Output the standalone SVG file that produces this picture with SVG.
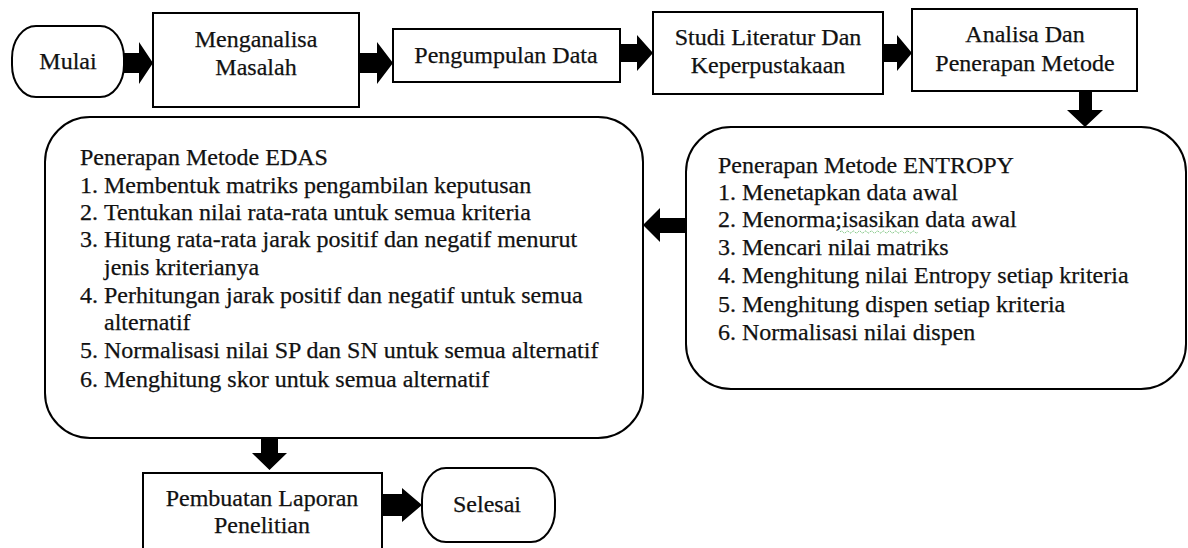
<svg xmlns="http://www.w3.org/2000/svg" width="1188" height="548" viewBox="0 0 1188 548">
<style>
.box{fill:#fff;stroke:#000;stroke-width:2}
.t{font-family:"Liberation Serif","Times New Roman",serif;font-size:24px;fill:#111;stroke:#111;stroke-width:0.25}
.c{text-anchor:middle}
.arr{fill:#000}
</style>
<rect width="1188" height="548" fill="#fff"/>
<g id="mulai">
<rect class="box" x="12" y="26" width="112" height="71" rx="24" ry="32"/>
<text class="t c" x="68" y="69">Mulai</text>
</g>
<g id="menganalisa">
<rect class="box" x="153" y="13" width="206" height="94"/>
<text class="t c" x="256" y="47">Menganalisa</text>
<text class="t c" x="256" y="75">Masalah</text>
</g>
<g id="pengumpulan">
<rect class="box" x="393" y="29" width="227" height="53"/>
<text class="t c" x="506" y="63">Pengumpulan Data</text>
</g>
<g id="studi">
<rect class="box" x="653" y="12" width="230" height="82"/>
<text class="t c" x="768" y="45">Studi Literatur Dan</text>
<text class="t c" x="768" y="73">Keperpustakaan</text>
</g>
<g id="analisa">
<rect class="box" x="912" y="9" width="225" height="82"/>
<text class="t c" x="1025" y="42">Analisa Dan</text>
<text class="t c" x="1025" y="71">Penerapan Metode</text>
</g>
<g id="entropy">
<rect class="box" x="686" y="127" width="500" height="262" rx="45" ry="45"/>
<text class="t" x="718" y="173">Penerapan Metode ENTROPY</text>
<text class="t" x="718" y="200">1. Menetapkan data awal</text>
<text class="t" x="718" y="227">2. Menorma;isasikan data awal</text>
<path d="M840 232 q1.5 -2 3 0 t3 0 t3 0 t3 0 t3 0 t3 0 t3 0 t3 0 t3 0 t3 0 t3 0 t3 0 t3 0 t3 0 t3 0 t3 0 t3 0 t3 0 t3 0 t3 0 t3 0 t3 0 t3 0 t3 0 t3 0 t3 0" fill="none" stroke="#4caf50" stroke-width="1" stroke-dasharray="1 1"/>
<text class="t" x="718" y="255">3. Mencari nilai matriks</text>
<text class="t" x="718" y="283">4. Menghitung nilai Entropy setiap kriteria</text>
<text class="t" x="718" y="312">5. Menghitung dispen setiap kriteria</text>
<text class="t" x="718" y="340">6. Normalisasi nilai dispen</text>
</g>
<g id="edas">
<rect class="box" x="45" y="117" width="598" height="321" rx="45" ry="45"/>
<text class="t" x="80" y="165">Penerapan Metode EDAS</text>
<text class="t" x="80" y="193">1.</text><text class="t" x="104" y="193">Membentuk matriks pengambilan keputusan</text>
<text class="t" x="80" y="220">2.</text><text class="t" x="104" y="220">Tentukan nilai rata-rata untuk semua kriteria</text>
<text class="t" x="80" y="247">3.</text><text class="t" x="104" y="247">Hitung rata-rata jarak positif dan negatif menurut</text>
<text class="t" x="104" y="275">jenis kriterianya</text>
<text class="t" x="80" y="303">4.</text><text class="t" x="104" y="303">Perhitungan jarak positif dan negatif untuk semua</text>
<text class="t" x="104" y="330">alternatif</text>
<text class="t" x="80" y="358">5.</text><text class="t" x="104" y="358">Normalisasi nilai SP dan SN untuk semua alternatif</text>
<text class="t" x="80" y="387">6.</text><text class="t" x="104" y="387">Menghitung skor untuk semua alternatif</text>
</g>
<g id="pembuatan">
<rect class="box" x="143" y="473" width="239" height="90"/>
<text class="t c" x="262" y="506">Pembuatan Laporan</text>
<text class="t c" x="262" y="533">Penelitian</text>
</g>
<g id="selesai">
<rect class="box" x="422" y="468" width="133" height="74" rx="24" ry="32"/>
<text class="t c" x="487" y="512">Selesai</text>
</g>
<g id="connectors" class="arr">
<polygon points="124,53 139,53 139,42 153,63 139,84 139,73 124,73"/>
<polygon points="360,53 377,53 377,42 393,63 377,84 377,73 360,73"/>
<polygon points="620,44 637,44 637,35 653,53 637,71 637,62 620,62"/>
<polygon points="883,44 897,44 897,35 912,53 897,71 897,62 883,62"/>
<polygon points="1079,91 1092,91 1092,110 1103,110 1085,127 1067,110 1079,110"/>
<polygon points="685,218 660,218 660,208 643,225 660,242 660,233 685,233"/>
<polygon points="261,438 278,438 278,453 287,453 269.5,470 252,453 261,453"/>
<polygon points="382,494 402,494 402,488 422,505 402,522 402,516 382,516"/>
</g>
</svg>
